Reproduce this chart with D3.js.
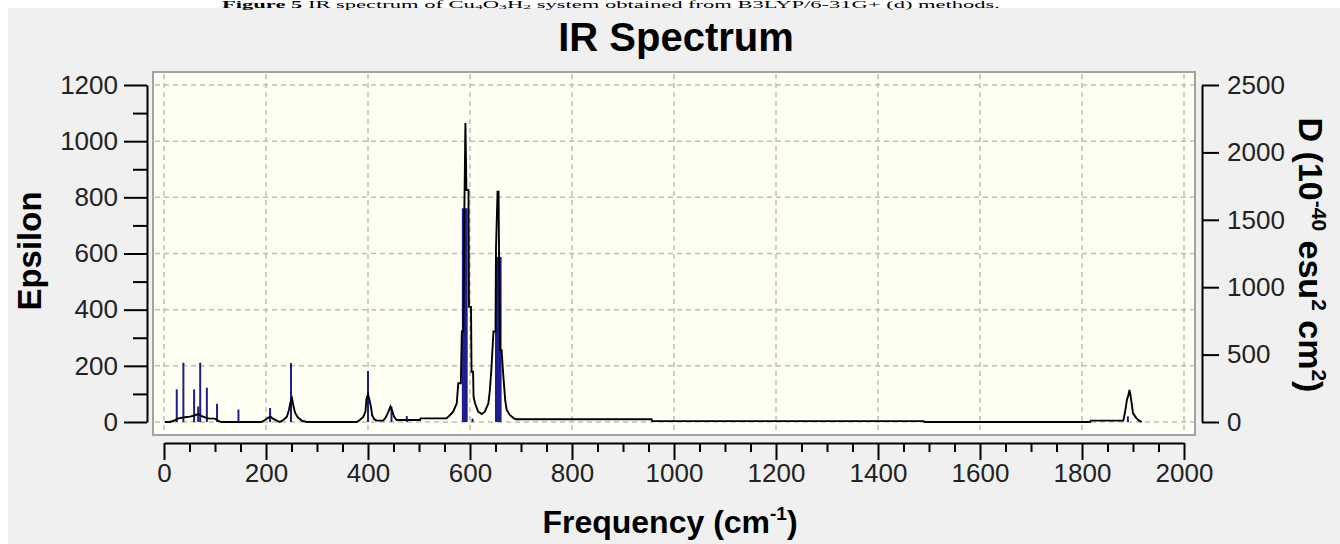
<!DOCTYPE html>
<html><head><meta charset="utf-8">
<script src="https://cdn.jsdelivr.net/npm/d3@7"></script>
<style>body{margin:0;background:#fff;} svg{display:block}</style>
</head><body>
<svg id="c" width="1340" height="544"></svg>
<script>
// ---- data ----
const curveFreq = [2,12,22,28,41,51,61,67,74,80,87,100,106,112,191,198,204,209,214,221,227,234,241,245,249,251,254,257,262,270,280,378,384,391,395,397,400,403,406,408,412,417,430,435,440,444,448,451,456,502,503,554,561,567,574,577,582,584,587,589,591,593,597,598,602,603,606,607,610,616,623,629,636,639,642,646,650,651,654,656,657,659,662,665,669,672,678,686,690,956,957,1490,1491,1816,1817,1881,1884,1888,1891,1893,1895,1897,1900,1907,1912,1917];
const curveEps  = [0,0,7,13,17,19,24,28,21,17,13,12,5,0,0,7,15,19,11,5,0,7,19,43,78,85,55,33,17,5,0,0,7,19,37,81,99,78,52,25,10,5,5,17,37,55,37,19,7,7,13,13,25,37,66,138,138,322,322,760,1065,826,826,410,410,179,179,90,66,37,28,37,66,114,191,322,322,619,820,820,589,256,256,173,78,43,25,13,10,10,3,3,0,0,5,5,31,78,96,114,96,72,31,13,5,0];
const stickFreq = [25,38,59,67,71,84,104,146,208,249,400,446,476,586,588.5,591,593.5,605,651,654,657,660,1890];
const stickD    = [242,440,242,115,440,254,135,92,104,437,379,115,44,1585,1585,1585,1585,25,1225,1225,1225,1225,42];
const xTicks = [0,200,400,600,800,1000,1200,1400,1600,1800,2000];
const xMinorTicks = [50,100,150,250,300,350,450,500,550,650,700,750,850,900,950,1050,1100,1150,1250,1300,1350,1450,1500,1550,1650,1700,1750,1850,1900,1950];
const yLeftTicks = [0,200,400,600,800,1000,1200];
const yLeftMinor = [100,300,500,700,900,1100];
const yRightTicks = [0,500,1000,1500,2000,2500];
const titleText = "IR Spectrum";
const xTitle = "Frequency (cm";
const yLeftTitle = "Epsilon";
const captionText = "Figure 5 IR spectrum of Cu4O3H2 system obtained from B3LYP/6-31G+ (d) methods.";

const svg = d3.select('#c');
const x  = d3.scaleLinear().domain([0,2000]).range([164,1184]);
const yL = d3.scaleLinear().domain([0,1200]).range([422,85]);
const yR = d3.scaleLinear().domain([0,2500]).range([422,85]);
const fmt = d3.format('d');
const SANS = 'Liberation Sans, Arial, sans-serif';

// gray panel
svg.append('rect').attr('x',8).attr('y',8).attr('width',1332).attr('height',536).attr('fill','#f0f0f0');

// caption strip at the very top
const cap = svg.append('text').attr('x',222).attr('y',7.5)
  .attr('font-family','Liberation Serif, Times New Roman, serif').attr('font-size',10).attr('fill','#000')
  .attr('textLength',778).attr('lengthAdjust','spacingAndGlyphs');
cap.append('tspan').attr('font-weight','bold').text('Figure 5');
cap.append('tspan').text(' IR spectrum of Cu');
cap.append('tspan').attr('font-size',7).attr('dy',1).text('4');
cap.append('tspan').attr('dy',-1).text('O');
cap.append('tspan').attr('font-size',7).attr('dy',1).text('3');
cap.append('tspan').attr('dy',-1).text('H');
cap.append('tspan').attr('font-size',7).attr('dy',1).text('2');
cap.append('tspan').attr('dy',-1).text(' system obtained from B3LYP/6-31G+ (d) methods.');

// plot frame
svg.append('rect').attr('x',153).attr('y',72).attr('width',1042).attr('height',363)
  .attr('fill','#fffff4').attr('stroke','#a3a3a3').attr('stroke-width',2);

// grid
const grid = svg.append('g').attr('stroke','#bdbdbd').attr('stroke-width',1.5).attr('stroke-dasharray','5,4');
grid.selectAll('.v').data(xTicks).join('line')
  .attr('x1',d=>x(d)).attr('x2',d=>x(d)).attr('y1',74).attr('y2',434);
grid.selectAll('.h').data(yLeftTicks).join('line')
  .attr('y1',d=>yL(d)).attr('y2',d=>yL(d)).attr('x1',155).attr('x2',1194);

// sticks
svg.append('g').selectAll('line').data(stickFreq).join('line')
  .attr('x1',d=>x(d)).attr('x2',d=>x(d))
  .attr('y1',yR(0)).attr('y2',(d,i)=>yR(stickD[i]))
  .attr('stroke','#1d1d8f').attr('stroke-width',2);

// curve
const pts = curveFreq.map((f,i)=>[f,curveEps[i]]);
svg.append('path').datum(pts)
  .attr('d', d3.line().x(d=>x(d[0])).y(d=>yL(d[1])))
  .attr('fill','none').attr('stroke','#000').attr('stroke-width',1.9).attr('stroke-linejoin','miter');

// axes
function styleAxis(g){
  g.selectAll('path,line').attr('stroke','#000').attr('stroke-width',2);
  g.selectAll('text').attr('font-family',SANS).attr('font-size',26).attr('fill','#222');
}
const gL = svg.append('g').attr('transform','translate(147,0)')
  .call(d3.axisLeft(yL).tickValues(yLeftTicks).tickFormat(fmt).tickSize(23).tickSizeOuter(0).tickPadding(6));
styleAxis(gL);
svg.append('g').attr('transform','translate(147,0)')
  .call(d3.axisLeft(yL).tickValues(yLeftMinor).tickSize(14).tickFormat(''))
  .call(g=>g.select('.domain').remove()).call(styleAxis);

const gB = svg.append('g').attr('transform','translate(0,443)')
  .call(d3.axisBottom(x).tickValues(xTicks).tickFormat(fmt).tickSize(17).tickSizeOuter(0).tickPadding(4));
styleAxis(gB);
svg.append('g').attr('transform','translate(0,443)')
  .call(d3.axisBottom(x).tickValues(xMinorTicks).tickSize(9).tickFormat(''))
  .call(g=>g.select('.domain').remove()).call(styleAxis);

const gR = svg.append('g').attr('transform','translate(1202,0)')
  .call(d3.axisRight(yR).tickValues(yRightTicks).tickFormat(fmt).tickSize(17).tickSizeOuter(0).tickPadding(8));
styleAxis(gR);

// titles
svg.append('text').attr('x',676).attr('y',51).attr('text-anchor','middle')
  .attr('font-family',SANS).attr('font-weight','bold').attr('font-size',40).text(titleText);

const xt = svg.append('text').attr('x',670).attr('y',533).attr('text-anchor','middle')
  .attr('font-family',SANS).attr('font-weight','bold').attr('font-size',32);
xt.append('tspan').text(xTitle);
xt.append('tspan').attr('font-size',19).attr('dy',-13).text('-1');
xt.append('tspan').attr('dy',13).text(')');

svg.append('text').attr('transform','translate(41,251) rotate(-90)').attr('text-anchor','middle')
  .attr('font-family',SANS).attr('font-weight','bold').attr('font-size',33).text(yLeftTitle);

const rt = svg.append('text').attr('transform','translate(1299,255) rotate(90)').attr('text-anchor','middle')
  .attr('font-family',SANS).attr('font-weight','bold').attr('font-size',34);
rt.append('tspan').text('D (10');
rt.append('tspan').attr('font-size',21).attr('dy',-13).text('-40');
rt.append('tspan').attr('dy',13).text(' esu');
rt.append('tspan').attr('font-size',21).attr('dy',-13).text('2');
rt.append('tspan').attr('dy',13).text(' cm');
rt.append('tspan').attr('font-size',21).attr('dy',-13).text('2');
rt.append('tspan').attr('dy',13).text(')');
</script>
</body></html>
